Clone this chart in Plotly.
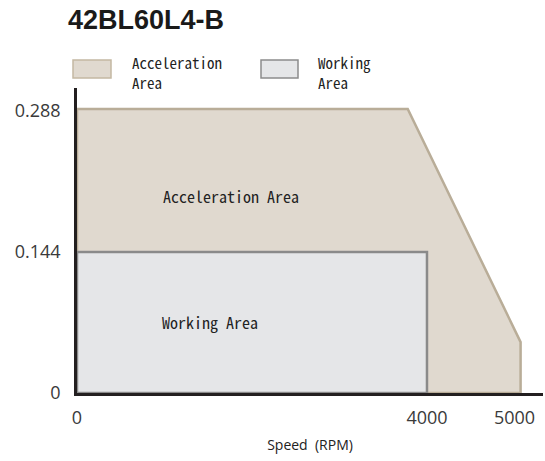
import plotly.graph_objects as go

# Data
accel_x = [0, 3780, 5070, 5070, 0, 0]
accel_y = [0.29, 0.29, 0.052, 0, 0, 0.29]
work_x = [0, 4000, 4000, 0, 0]
work_y = [0.144, 0.144, 0, 0, 0.144]
x_ticks = [0, 4000, 5000]
x_tick_text = ["0", "4000", "5000"]
y_ticks = [0, 0.144, 0.288]
y_tick_text = ["0", "0.144", "0.288"]

W, H = 545, 461
L, R, T, B = 77, 2, 88, 68
ACC_FILL, ACC_LINE = "#e0d9cf", "#b9ad98"
WRK_FILL, WRK_LINE = "#e5e6e8", "#8a8a8a"
MONO = "Noto Sans Mono CJK SC, DejaVu Sans Mono, monospace"
SANS = "Open Sans, Liberation Sans, Arial, sans-serif"

fig = go.Figure()
fig.add_trace(go.Scatter(x=accel_x, y=accel_y, fill="toself", fillcolor=ACC_FILL,
                         mode="lines", line=dict(color=ACC_LINE, width=2.5),
                         name="Acceleration Area", hoverinfo="skip"))
fig.add_trace(go.Scatter(x=work_x, y=work_y, fill="toself", fillcolor=WRK_FILL,
                         mode="lines", line=dict(color=WRK_LINE, width=2.5),
                         name="Working Area", hoverinfo="skip"))

def px2paper_x(px):
    return (px - L) / (W - L - R)

def px2paper_y(py):
    return (H - B - py) / (H - T - B)

annotations = [
    dict(x=960, y=0.201, xref="x", yref="y", text="Acceleration Area", showarrow=False,
         xanchor="left", yanchor="middle", font=dict(family=MONO, size=16, color="#222")),
    dict(x=950, y=0.0725, xref="x", yref="y", text="Working Area", showarrow=False,
         xanchor="left", yanchor="middle", font=dict(family=MONO, size=16, color="#222")),
]
for txt, px, py in [("Acceleration<br>Area", 130, 72), ("Working<br>Area", 316, 72)]:
    annotations.append(dict(x=px2paper_x(px), y=px2paper_y(py), xref="paper", yref="paper",
                            text=txt, showarrow=False, xanchor="left", yanchor="middle",
                            align="left",
                            font=dict(family=MONO, size=15, color="#222")))

shapes = [
    dict(type="rect", xref="paper", yref="paper",
         x0=px2paper_x(73), x1=px2paper_x(111), y0=px2paper_y(60), y1=px2paper_y(78),
         fillcolor=ACC_FILL, line=dict(color="#c4b8a2", width=1.5)),
    dict(type="rect", xref="paper", yref="paper",
         x0=px2paper_x(261), x1=px2paper_x(298), y0=px2paper_y(60), y1=px2paper_y(78),
         fillcolor=WRK_FILL, line=dict(color="#8c8c8c", width=1.5)),
]

fig.update_layout(
    width=W, height=H,
    margin=dict(l=L, r=R, t=T, b=B, autoexpand=False),
    paper_bgcolor="white", plot_bgcolor="white",
    showlegend=False,
    title=dict(text="<b>42BL60L4-B</b>", x=68 / W, xanchor="left", xref="container",
               y=1 - 20 / H, yanchor="middle", yref="container",
               font=dict(family="Liberation Sans, Arial, sans-serif", size=27, color="#1a1a1a")),
    annotations=annotations,
    shapes=shapes,
    xaxis=dict(range=[0, 5326], showgrid=False, zeroline=False,
               showline=True, linecolor="#231f20", linewidth=2.5,
               tickvals=x_ticks, ticktext=x_tick_text,
               ticks="outside", ticklen=7, tickcolor="rgba(0,0,0,0)",
               tickfont=dict(family=SANS, size=18, color="#3a3a3a"),
               title=dict(text="Speed  (RPM)", standoff=12,
                          font=dict(family=SANS, size=14, color="#222"))),
    yaxis=dict(range=[0, 0.3115], showgrid=False, zeroline=False,
               showline=True, linecolor="#231f20", linewidth=2.5,
               tickvals=y_ticks, ticktext=y_tick_text,
               ticks="outside", ticklen=10, tickcolor="rgba(0,0,0,0)",
               tickfont=dict(family=SANS, size=18, color="#3a3a3a")),
)

fig.write_html("out.html", config={"displayModeBar": False},
               post_script="document.body.style.margin='0';")
